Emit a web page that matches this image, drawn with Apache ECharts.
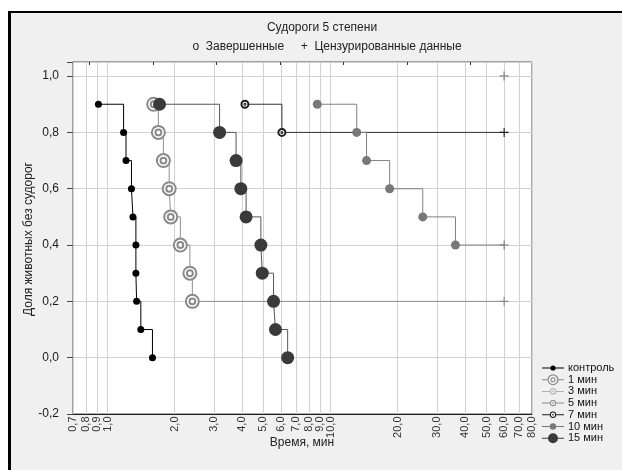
<!DOCTYPE html>
<html>
<head>
<meta charset="utf-8">
<script src="https://cdn.jsdelivr.net/npm/echarts@6/dist/echarts.min.js"></script>
<style>html,body{margin:0;padding:0;background:#fff}#c{width:622px;height:470px}</style>
</head>
<body>
<div id="c"></div>
<script>
// ---- data (time in minutes, share of animals without seizures) ----
const ctrlT = [0.91, 1.18, 1.21, 1.28, 1.30, 1.34, 1.34, 1.35, 1.41, 1.59];
const ctrlS = [0.9, 0.8, 0.7, 0.6, 0.5, 0.4, 0.3, 0.2, 0.1, 0.0];
const m1T = [1.61, 1.69, 1.78, 1.89, 1.92, 2.12, 2.34, 2.40];
const m1S = [0.9, 0.8, 0.7, 0.6, 0.5, 0.4, 0.3, 0.2];
const m1Cens = [[60, 0.2]];
const m3T = [];
const m3S = [];
const m3Cens = [[60, 1.0]];
const m5T = [];
const m5S = [];
const m5Cens = [[60, 1.0]];
const m7T = [4.13, 6.05];
const m7S = [0.9, 0.8];
const m7Cens = [[60, 0.8]];
const m10T = [8.72, 13.1, 14.5, 18.4, 25.9, 36.3];
const m10S = [0.9, 0.8, 0.7, 0.6, 0.5, 0.4];
const m10Cens = [[60, 0.4]];
const m15T = [1.71, 3.18, 3.77, 3.96, 4.18, 4.87, 4.94, 5.55, 5.66, 6.42];
const m15S = [0.9, 0.8, 0.7, 0.6, 0.5, 0.4, 0.3, 0.2, 0.1, 0.0];

const xTickVals = [0.7, 0.8, 0.9, 1, 2, 3, 4, 5, 6, 7, 8, 9, 10, 20, 30, 40, 50, 60, 70, 80];
const xTickLabels = ['0,7','0,8','0,9','1,0','2,0','3,0','4,0','5,0','6,0','7,0','8,0','9,0','10,0','20,0','30,0','40,0','50,0','60,0','70,0','80,0'];
const legendNames = ['контроль', '1 мин', '3 мин', '5 мин', '7 мин', '10 мин', '15 мин'];

const FONT = '"Liberation Sans", Arial, sans-serif';
const RING2 = 'emptyPath://M0,-10A10,10,0,1,1,0,10A10,10,0,1,1,0,-10ZM0,-4.5A4.5,4.5,0,1,1,0,4.5A4.5,4.5,0,1,1,0,-4.5Z';
const RINGDOT = 'emptyPath://M0,-10A10,10,0,1,1,0,10A10,10,0,1,1,0,-10ZM0,-1.5A1.5,1.5,0,1,1,0,1.5A1.5,1.5,0,1,1,0,-1.5Z';
const PLUS = 'path://M-0.6,-5H0.6V-0.6H5V0.6H0.6V5H-0.6V0.6H-5V-0.6H-0.6Z';

// legend icons: short line with the marker in the middle
function cw(r) { return 'M0,' + (-r) + 'A' + r + ',' + r + ',0,1,1,0,' + r + 'A' + r + ',' + r + ',0,1,1,0,' + (-r) + 'Z'; }
function ccw(r) { return 'M0,' + (-r) + 'A' + r + ',' + r + ',0,1,0,0,' + r + 'A' + r + ',' + r + ',0,1,0,0,' + (-r) + 'Z'; }
function segs(r) { return 'M-11,-0.5H' + (-r) + 'V0.5H-11ZM' + r + ',-0.5H11V0.5H' + r + 'Z'; }
const ICON_DOT = r => 'path://' + segs(0) + cw(r);
const ICON_RING2 = 'path://' + segs(5.5) + cw(5.5) + ccw(4.3) + cw(2.5) + ccw(1.5);
const ICON_RINGDOT = 'path://' + segs(3.2) + cw(3.2) + ccw(2.2) + cw(0.8);

function km(name, T, S, cens, sym, size, color, lineColor, bw) {
  const data = T.map((t, i) => [t, S[i]]);
  (cens || []).forEach(c => data.push({ value: c, symbol: PLUS, symbolSize: 9 }));
  return {
    type: 'line', name: name, data: data, step: 'end',
    symbol: sym, symbolSize: size, showSymbol: true,
    itemStyle: { color: color, borderWidth: bw },
    lineStyle: { color: lineColor, width: 1 },
    emphasis: { disabled: true }, silent: true, z: 3
  };
}

const chart = echarts.init(document.getElementById('c'));
const ctrl = km('контроль', ctrlT, ctrlS, null, 'circle', 7, '#000', '#000', 0);
ctrl.markLine = {
  silent: true, symbol: ['none', 'none'], label: { show: false }, z: 1, animation: false,
  lineStyle: { color: '#d2d2d2', width: 1, type: 'solid' },
  emphasis: { disabled: true },
  data: xTickVals.map(v => ({ xAxis: v }))
};

const legendIcons = [ICON_DOT(2.6), ICON_RING2, ICON_RINGDOT, ICON_RINGDOT, ICON_RINGDOT, ICON_DOT(3.2), ICON_DOT(5)];

chart.setOption({
  animation: false,
  backgroundColor: '#f0f0f0',
  textStyle: { fontFamily: FONT },
  graphic: [
    { type: 'rect', shape: { x: 0, y: 0, width: 622, height: 11 }, style: { fill: '#fff' }, silent: true },
    { type: 'rect', shape: { x: 0, y: 0, width: 8, height: 470 }, style: { fill: '#fff' }, silent: true },
    { type: 'rect', shape: { x: 8, y: 11, width: 614, height: 2 }, style: { fill: '#000' }, silent: true },
    { type: 'rect', shape: { x: 8, y: 11, width: 3, height: 459 }, style: { fill: '#000' }, silent: true },
    { type: 'text', x: 322, y: 28, style: { text: 'Судороги 5 степени', font: '12px ' + FONT, fill: '#222', textAlign: 'center', textVerticalAlign: 'middle' }, silent: true },
    { type: 'text', x: 327, y: 47, style: { text: 'o  Завершенные     +  Цензурированные данные', font: '12px ' + FONT, fill: '#222', textAlign: 'center', textVerticalAlign: 'middle' }, silent: true },
    { type: 'text', x: 302, y: 443, style: { text: 'Время, мин', font: '12px ' + FONT, fill: '#222', textAlign: 'center', textVerticalAlign: 'middle' }, silent: true },
    { type: 'text', x: 29, y: 239, rotation: Math.PI / 2, style: { text: 'Доля животных без судорог', font: '12px ' + FONT, fill: '#222', textAlign: 'center', textVerticalAlign: 'middle' }, silent: true }
  ],
  legend: {
    data: legendNames.map((n, i) => ({ name: n, icon: legendIcons[i] })),
    orient: 'vertical', left: 542, top: 362.5, padding: 0,
    itemWidth: 22, itemHeight: 11, itemGap: 0.7, selectedMode: false, symbolKeepAspect: true,
    textStyle: { fontSize: 11, color: '#111', fontFamily: FONT, padding: [0, 0, 0, -1] }
  },
  grid: [
    { left: 73, right: 90, top: 62, bottom: 56, show: true, backgroundColor: '#fff', borderColor: '#555', borderWidth: 1 },
    { left: 89.5, right: 90, top: 62, bottom: 56, show: false }
  ],
  xAxis: [
    {
      type: 'log', logBase: 10, min: 0.7, max: 80, gridIndex: 0,
      axisLine: { show: true, onZero: false, lineStyle: { color: '#222', width: 1 } },
      axisTick: { show: false }, axisLabel: { show: false },
      splitLine: { show: false }, minorTick: { show: false }, minorSplitLine: { show: false }
    },
    {
      type: 'value', gridIndex: 1, min: 0, max: 6.968, interval: 1, position: 'top',
      axisLine: { show: false, onZero: false }, axisLabel: { show: false }, splitLine: { show: false },
      axisTick: { show: true, inside: true, length: 3, lineStyle: { color: '#333' } }
    }
  ],
  yAxis: [
    {
      type: 'value', min: -0.2, max: 1.05, interval: 0.2, gridIndex: 0,
      axisLine: { show: true, onZero: false, lineStyle: { color: '#222', width: 1 } },
      axisTick: { show: true, inside: false, length: 6, lineStyle: { color: '#444' } },
      axisLabel: {
        margin: 14, fontSize: 12, color: '#1a1a1a', fontFamily: FONT,
        formatter: v => (v > 1.001 ? '' : v.toFixed(1).replace('.', ','))
      },
      splitLine: { show: true, lineStyle: { color: '#d2d2d2', width: 1 } }
    },
    { type: 'value', gridIndex: 1, min: 0, max: 1, show: false }
  ],
  series: [
    ctrl,
    km('1 мин', m1T, m1S, m1Cens, RING2, 13, '#8a8a8a', '#8f8f8f', 1.5),
    km('3 мин', m3T, m3S, m3Cens, RINGDOT, 7, '#b0b0b0', '#b0b0b0', 1),
    km('5 мин', m5T, m5S, m5Cens, RINGDOT, 7, '#8a8a8a', '#8a8a8a', 1),
    km('7 мин', m7T, m7S, m7Cens, RINGDOT, 7, '#1e1e1e', '#333', 1),
    km('10 мин', m10T, m10S, m10Cens, 'circle', 9, '#787878', '#808080', 0),
    km('15 мин', m15T, m15S, null, 'circle', 13, '#3a3a3a', '#555', 0),
    {
      type: 'scatter', name: '_xlabels', xAxisIndex: 0, yAxisIndex: 0,
      data: xTickVals.map(v => [v, -0.2]),
      symbolSize: 1, itemStyle: { color: 'rgba(0,0,0,0)' }, silent: true, clip: false, z: 5,
      label: {
        show: true, position: 'bottom', distance: 2, rotate: 90, align: 'right', verticalAlign: 'middle',
        fontSize: 11, color: '#000', fontFamily: FONT,
        formatter: p => xTickLabels[p.dataIndex]
      },
      labelLayout: { hideOverlap: false },
      emphasis: { disabled: true }
    }
  ]
});
</script>
</body>
</html>
